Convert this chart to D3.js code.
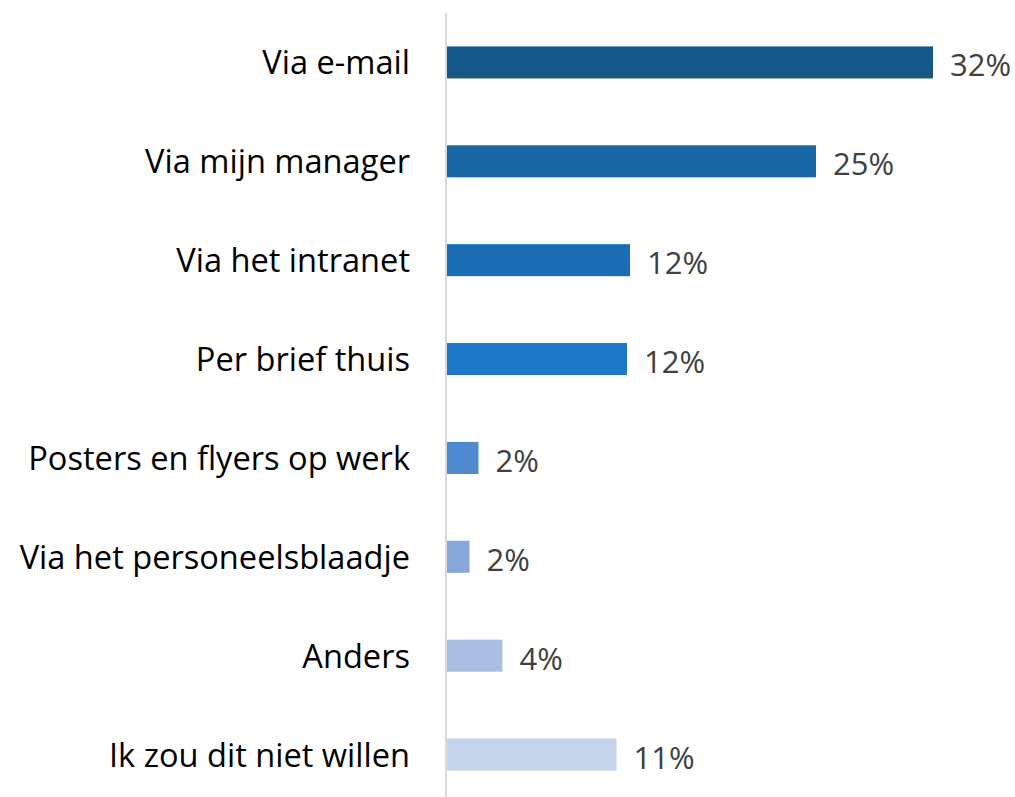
<!DOCTYPE html>
<html>
<head>
<meta charset="utf-8">
<script src="https://cdn.jsdelivr.net/npm/d3@7"></script>
<style>
  html, body { margin: 0; padding: 0; background: #fff; }
  svg { display: block; }
  text { font-family: "Open Sans", "Noto Sans", sans-serif; }
</style>
</head>
<body>
<svg id="chart" width="1015" height="797"></svg>
<script>
const categories = [
  "Via e-mail",
  "Via mijn manager",
  "Via het intranet",
  "Per brief thuis",
  "Posters en flyers op werk",
  "Via het personeelsblaadje",
  "Anders",
  "Ik zou dit niet willen"
];
const values = [32.4, 24.6, 12.2, 12.0, 2.1, 1.5, 3.7, 11.3];
const valueLabels = ["32%", "25%", "12%", "12%", "2%", "2%", "4%", "11%"];
const colors = ["#155787", "#1765a3", "#1a6db4", "#1e77c7", "#4f8ad0", "#88a8d9", "#a8bfe1", "#c5d4ea"];

const svg = d3.select("#chart");
const x0 = 447;
const x = d3.scaleLinear().domain([0, 40]).range([x0, x0 + 600]);
const y = d3.scaleBand().domain(categories).range([13, 804]).paddingInner(0.676).paddingOuter(0.338);

// axis line
svg.append("line")
  .attr("x1", x0 - 1).attr("x2", x0 - 1)
  .attr("y1", 13).attr("y2", 797)
  .attr("stroke", "#d9d9d9").attr("stroke-width", 2);

// bars
svg.selectAll("rect.bar").data(categories).join("rect")
  .attr("class", "bar")
  .attr("x", x(0))
  .attr("y", d => y(d))
  .attr("width", (d, i) => x(values[i]) - x(0))
  .attr("height", y.bandwidth())
  .attr("fill", (d, i) => colors[i]);

// category labels
svg.selectAll("text.cat").data(categories).join("text")
  .attr("class", "cat")
  .attr("x", x0 - 37)
  .attr("y", d => y(d) + y.bandwidth() / 2 + 12)
  .attr("text-anchor", "end")
  .attr("font-size", 32.6)
  .attr("fill", "#000")
  .text(d => d);

// value labels
svg.selectAll("text.val").data(categories).join("text")
  .attr("class", "val")
  .attr("x", (d, i) => x(values[i]) + 17)
  .attr("y", d => y(d) + y.bandwidth() / 2 + 14)
  .attr("font-size", 31)
  .attr("fill", "#404040")
  .text((d, i) => valueLabels[i]);
</script>
</body>
</html>
